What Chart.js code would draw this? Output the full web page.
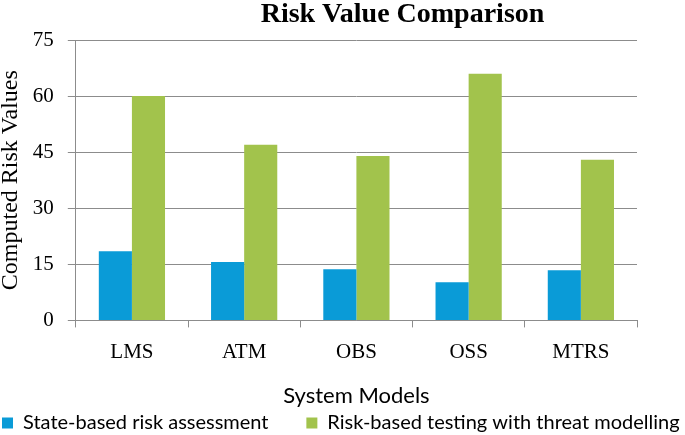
<!DOCTYPE html>
<html>
<head>
<meta charset="utf-8">
<script src="https://cdn.jsdelivr.net/npm/chart.js@4"></script>
<style>
  html, body { margin: 0; padding: 0; background: #fff; }
  #wrap { width: 685px; height: 435px; }
</style>
</head>
<body>
<div id="wrap"><canvas id="riskChart" width="685" height="435"></canvas></div>
<script>
const titleText = "Risk Value Comparison";
const categories = ["LMS", "ATM", "OBS", "OSS", "MTRS"];
const seriesNames = ["State-based risk assessment", "Risk-based testing with threat modelling"];
const stateBased = [18.5, 15.6, 13.7, 10.2, 13.4];
const riskBased = [60, 47, 44, 66, 43];
const yTicks = [0, 15, 30, 45, 60, 75];

const serif = "'Liberation Serif', 'DejaVu Serif', serif";
const sans = "Lato, 'Liberation Sans', sans-serif";
const lineGrey = "#8c8c8c";

// title sits a bit right of centre in the original, so draw it ourselves
const offsetTitle = {
  id: "offsetTitle",
  afterDraw(chart) {
    const c = chart.ctx;
    c.save();
    c.font = "bold 28px " + serif;
    c.fillStyle = "#000";
    c.textAlign = "center";
    c.textBaseline = "middle";
    c.fillText(titleText, chart.width / 2 + 60, 15);
    c.restore();
  }
};

const ctx = document.getElementById("riskChart").getContext("2d");

new Chart(ctx, {
  type: "bar",
  data: {
    labels: categories,
    datasets: [
      {
        // nbsp tail widens the gap before the second legend entry
        label: seriesNames[0] + "\u00a0\u00a0\u00a0\u00a0\u00a0\u00a0\u00a0",
        data: stateBased,
        backgroundColor: "#0a9bd7"
      },
      {
        label: seriesNames[1],
        data: riskBased,
        backgroundColor: "#a2c34c"
      }
    ]
  },
  plugins: [offsetTitle],
  options: {
    responsive: false,
    animation: false,
    layout: { padding: { top: 40, right: 0, bottom: -8, left: 0 } },
    datasets: {
      bar: { categoryPercentage: 0.59, barPercentage: 1.0 }
    },
    plugins: {
      title: { display: false },
      legend: {
        position: "bottom",
        align: "start",
        labels: {
          color: "#000",
          font: { family: sans, size: 20 },
          boxWidth: 11,
          boxHeight: 11,
          padding: 2
        }
      },
      tooltip: { enabled: false }
    },
    scales: {
      x: {
        grid: {
          display: true,
          drawOnChartArea: false,
          drawTicks: true,
          tickLength: 7,
          color: lineGrey
        },
        border: { color: lineGrey, width: 1 },
        ticks: {
          color: "#000",
          font: { family: serif, size: 21 },
          padding: 12
        },
        title: {
          display: true,
          text: "System Models",
          color: "#000",
          font: { family: sans, size: 22 },
          padding: { top: 6, bottom: 2 }
        }
      },
      y: {
        min: 0,
        max: 75,
        afterBuildTicks: (axis) => {
          axis.ticks = yTicks.map(v => ({ value: v }));
        },
        grid: {
          color: lineGrey,
          drawTicks: true,
          tickLength: 8
        },
        border: { color: lineGrey, width: 1 },
        ticks: {
          color: "#000",
          font: { family: serif, size: 21 },
          padding: 14
        },
        title: {
          display: true,
          text: "Computed Risk Values",
          color: "#000",
          font: { family: serif, size: 24, lineHeight: 0.7 },
          padding: { top: 2, bottom: 0 }
        }
      },
      // empty right-hand axis, only there to keep the white margin on the right
      yRight: {
        position: "right",
        display: true,
        grid: { display: false },
        border: { display: false },
        ticks: { display: false },
        afterFit: (axis) => { axis.width = 48; }
      }
    }
  }
});
</script>
</body>
</html>
